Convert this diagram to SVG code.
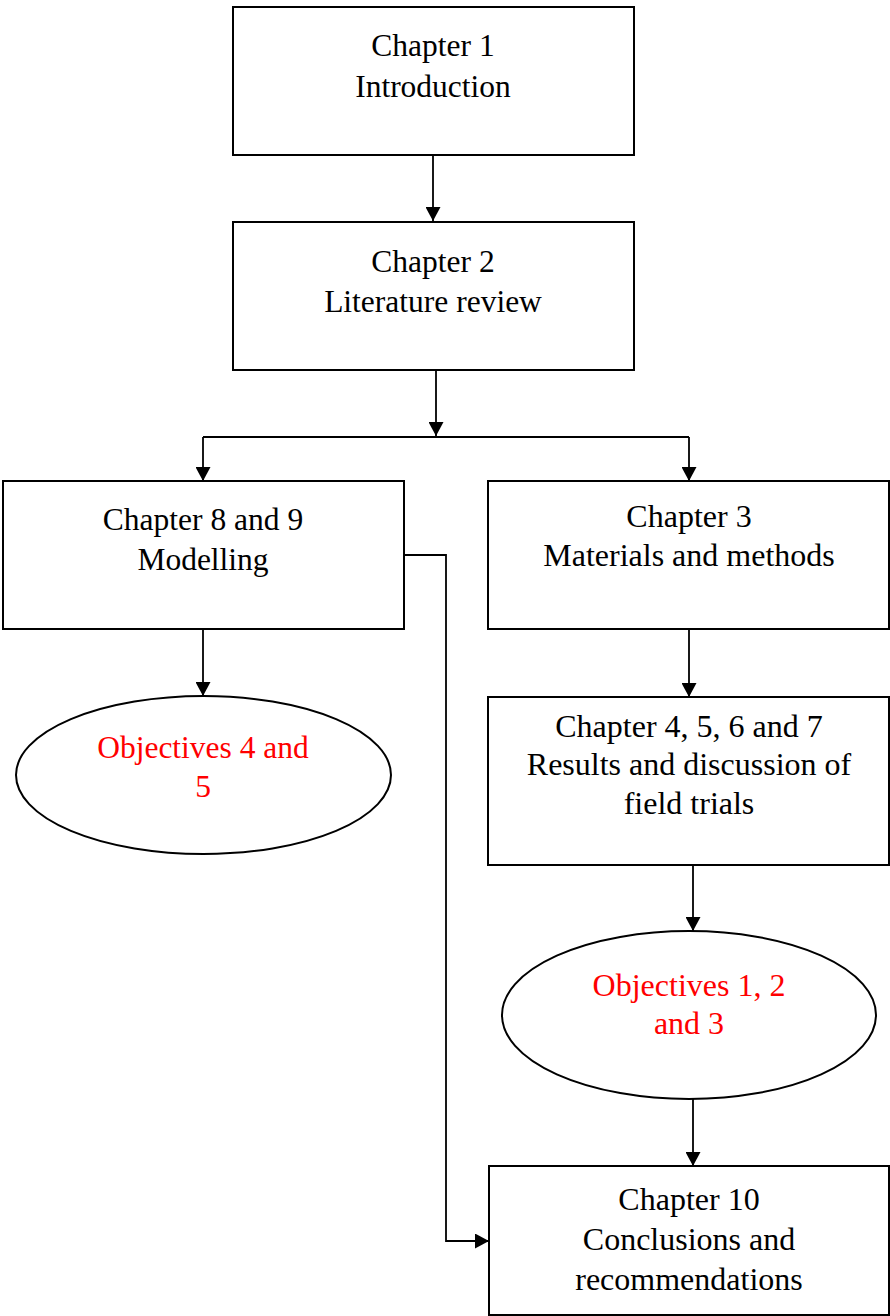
<svg xmlns="http://www.w3.org/2000/svg" width="890" height="1316" viewBox="0 0 890 1316">
<style>
.box{fill:#fff;stroke:#000;stroke-width:2}
.ell{fill:#fff;stroke:#000;stroke-width:2}
.t{font-family:"Liberation Serif","Times New Roman",serif;font-size:31.5px;fill:#000;text-anchor:middle}
.r{fill:#ff0000}
.c{fill:none;stroke:#000;stroke-width:1.8}
</style>
<defs>
<marker id="ah" viewBox="0 0 14 15" refX="14" refY="7.5" markerWidth="14" markerHeight="15" markerUnits="userSpaceOnUse" orient="auto">
<path d="M0,0 L14,7.5 L0,15 Z" fill="#000"/>
</marker>
</defs>
<rect width="890" height="1316" fill="#fff"/>
<g id="connectors">
<path class="c" d="M433,155 V221" marker-end="url(#ah)"/>
<path class="c" d="M436,370 V436" marker-end="url(#ah)"/>
<path class="c" d="M203,437 H689"/>
<path class="c" d="M203,437 V481" marker-end="url(#ah)"/>
<path class="c" d="M689,437 V481" marker-end="url(#ah)"/>
<path class="c" d="M203,629 V696" marker-end="url(#ah)"/>
<path class="c" d="M404,555 H446 V1241 H489" marker-end="url(#ah)"/>
<path class="c" d="M689,629 V697" marker-end="url(#ah)"/>
<path class="c" d="M693,865 V931" marker-end="url(#ah)"/>
<path class="c" d="M693,1099 V1166" marker-end="url(#ah)"/>
</g>
<g id="ch1">
<rect class="box" x="233" y="7" width="401" height="148"/>
<text class="t" x="433" y="56">Chapter 1</text>
<text class="t" x="433" y="97">Introduction</text>
</g>
<g id="ch2">
<rect class="box" x="233" y="222" width="401" height="148"/>
<text class="t" x="433" y="272">Chapter 2</text>
<text class="t" x="433" y="312">Literature review</text>
</g>
<g id="ch89">
<rect class="box" x="3" y="481" width="401" height="148"/>
<text class="t" x="203" y="530">Chapter 8 and 9</text>
<text class="t" x="203" y="570">Modelling</text>
</g>
<g id="obj45">
<ellipse class="ell" cx="203.5" cy="775" rx="187.5" ry="79"/>
<text class="t r" x="203" y="758">Objectives 4 and</text>
<text class="t r" x="203" y="797">5</text>
</g>
<g id="ch3">
<rect class="box" x="488" y="481" width="401" height="148"/>
<text class="t" x="689" y="527" style="font-size:32px">Chapter 3</text>
<text class="t" x="689" y="566" style="font-size:32px">Materials and methods</text>
</g>
<g id="ch4567">
<rect class="box" x="488" y="697" width="401" height="168"/>
<text class="t" x="689" y="737" style="font-size:32px">Chapter 4, 5, 6 and 7</text>
<text class="t" x="689" y="775" style="font-size:32px">Results and discussion of</text>
<text class="t" x="689" y="814" style="font-size:32px">field trials</text>
</g>
<g id="obj123">
<ellipse class="ell" cx="689" cy="1015" rx="187" ry="84"/>
<text class="t r" x="689" y="996" style="font-size:32px">Objectives 1, 2</text>
<text class="t r" x="689" y="1034" style="font-size:32px">and 3</text>
</g>
<g id="ch10">
<rect class="box" x="489" y="1166" width="400" height="149"/>
<text class="t" x="689" y="1210" style="font-size:32px">Chapter 10</text>
<text class="t" x="689" y="1250" style="font-size:32px">Conclusions and</text>
<text class="t" x="689" y="1290" style="font-size:32px">recommendations</text>
</g>
</svg>
